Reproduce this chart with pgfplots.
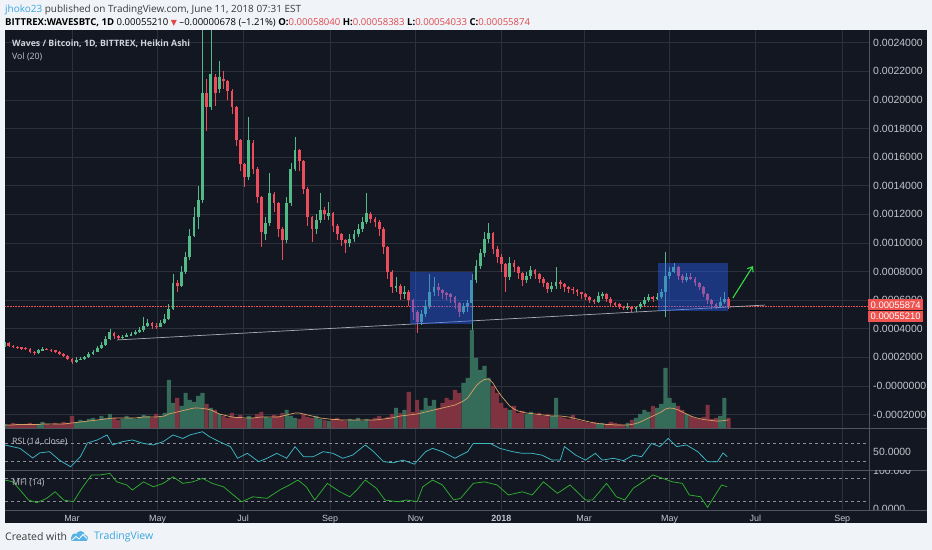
\documentclass[border=0pt]{standalone}
\usepackage{fontspec}
\usepackage{pgfplots}
\pgfplotsset{compat=1.18}
\usepackage{pgfplotstable}
\usetikzlibrary{arrows.meta}
\setmainfont{Open Sans}
\newfontfamily\lsans{Liberation Sans}
\newfontfamily\dejavu{DejaVu Sans}
\definecolor{pagebg}{HTML}{F0F3F8}
\definecolor{chartbg}{HTML}{131722}
\definecolor{gridc}{HTML}{2C303B}
\definecolor{sepc}{HTML}{50545F}
\definecolor{axtext}{HTML}{C3C6CE}
\definecolor{upc}{HTML}{53B987}
\definecolor{dnc}{HTML}{EB4D5C}
\definecolor{volup}{HTML}{356C59}
\definecolor{voldn}{HTML}{7F323F}
\definecolor{volma}{HTML}{D9A066}
\definecolor{rsic}{HTML}{3BB8C4}
\definecolor{mfic}{HTML}{2FAE2F}
\definecolor{dashc}{HTML}{8A8D96}
\definecolor{boxc}{HTML}{2962FF}
\definecolor{tvred}{HTML}{EF5350}
\definecolor{hdrred}{HTML}{E0474C}
\definecolor{tvblue}{HTML}{3BA6DF}
\definecolor{arrowg}{HTML}{33DD44}
\definecolor{linec}{HTML}{A9ACB4}
\definecolor{titlec}{HTML}{D1D4DC}
\definecolor{hdrtext}{HTML}{3A3A3A}

% d = days from 1 Mar 2017; prices in units of 1e-5 BTC; u=1 up candle; v = volume, m = volume MA (panel px)
\pgfplotstableread{
d o h l c u v m
-48 27 33 26 31 1 4 3
-45 30 31 27 28 0 3 3
-42 28 28.5 26.5 27.5 0 5 3
-39 27.5 28 26 27 0 4 3.5
-36 27 27.5 25.5 26.5 0 3 3.5
-33 26.5 27 25 26 0 4 3.5
-30 26 26.5 23 24 0 5 3.5
-27 24 24.5 22 23 0 3 3.5
-24 23 26 22.5 25 1 4 3.5
-21 25 27 24.5 26 1 6 4
-18 26 26.5 25 25.5 0 4 4
-15 25.5 26 24 25 0 3 4
-12 25 25.5 23 24 0 5 4
-9 24 24.5 21.5 22.5 0 4 4
-6 22.5 23 20 21 0 6 4
-3 21 21.5 18 19 0 5 4.5
0 19 19.5 15.5 17 0 12 5
3 17 20 16 18.5 1 6 5.5
6 18.5 20.5 18 19 1 8 6
9 19 21 18.5 20 1 7 6.5
12 20 23.5 19.5 22.5 1 9 7
15 22.5 25.5 22 24 1 10 7.5
18 24 28 23.5 26.5 1 8 8
21 26.5 31 26 29 1 12 8.5
24 29 35 28 33 1 10 9
27 33 40 32 38 1 14 9.5
30 37 38 33 35 0 10 10
33 35 35.5 32 33.5 0 8 10
36 33.5 36 33 34.5 1 9 10
39 34.5 37 34 35.5 1 12 10
42 35.5 38 35 36.5 1 10 10
45 36.5 39 36 37.5 1 9 10
48 37.5 41 37 39 1 11 10.5
51 39 48 38 42 1 13 11
54 42 47 41 44 1 12 11
57 44 45 40 42 0 10 11
60 42 44 40 41.5 0 14 11
63 41.5 46 41 44 1 12 11.5
66 44 50 43 47 1 15 12
69 47 57 46 54 1 48 14
72 54 78 53 72 1 25 15
75 72 74 66 70 0 30 16
78 70 84 69 80 1 22 17
81 80 94 78 90 1 35 18
84 90 110 88 105 1 28 19
87 105 125 104 118 1 26 20
90 118 140 110 130 1 32 20
93 130 248.9 128 205 1 35 19.5
96 205 215 178 195 0 24 19
99 195 248.9 193 218 1 20 18
102 216 218 196 205 0 18 16
105 208 227 205 216 1 14 14
108 215 220 208 213 0 12 13
111 213 214 200 206 0 10 12
114 206 208 190 195 0 15 11
117 195 196 168 172 0 11 10.5
120 172 173 150 155 0 13 10.5
123 155 156 139 146 0 9 10
126 146 188 144 172 1 12 10
129 170 172 148 152 0 10 10
132 152 153 128 132 0 14 10.5
135 132 133 97 108 0 16 11
138 106 118 102 114 1 11 11
141 114 149 112 135 1 10 11
144 134 136 122 128 0 13 11
147 128 129 104 110 0 12 11
150 110 111 88 102 0 15 12
153 102 132 100 128 1 18 13
156 128 156 126 152 1 12 14
159 152 174 150 165 1 10 15
162 165 166 150 157 0 9 15
165 157 158 134 138 0 14 14
168 138 139 112 118 0 11 13
171 118 119 101 110 0 10 12
174 110 120 106 116 1 12 11
177 116 135 114 123 1 9 10
180 123 125 116 120 0 8 9.5
183 119 129 116 121 1 7 9
186 121 122 108 112 0 9 8.5
189 112 113 102 106 0 10 8.5
192 106 107 98 102 0 8 8
195 102 103 93 100 0 7 8
198 100 106 97 103 1 9 8
201 103 109 101 106 1 8 8
204 106 113 104 110 1 10 8
207 110 118 108 115 1 7 8
210 115 135 113 121 1 9 8
213 120 122 114 117 0 8 8
216 117 118 111 115 0 10 8
219 115 116 105 110 0 12 8.5
222 110 111 92 97 0 9 9
225 97 98 75 80 0 11 9.5
228 80 81 65 69 0 14 10
231 69 76 66 70 1 20 11
234 70 71 60 64 0 15 12
237 64 70 61 66 1 18 12.5
240 66 67 56 60 0 36 13
243 60 61 46 52 0 16 13.5
246 52 53 37 45 0 28 14
249 45 53 43 50 1 18 15
252 50 60 48 56 1 30 16
255 56 78 54 66 1 22 17
258 66 76 63 69 1 28 18
261 69 72 63 67 0 20 19
264 67 68 61 65 0 25 20
267 65 66 60 64 0 30 21
270 64 65 58 62 0 28 22
273 62 63 54 58 0 38 23
276 58 59 48 52 0 35 25
279 52 58 50 56 1 45 27
282 56 60 52 58 1 50 30
285 58 78 35 74 1 98 36
288 74 88 72 84 1 70 42
291 84 96 82 93 1 58 46
294 93 108 90 103 1 62 48.5
297 103 114 100 107 1 50 49
300 107 108 92 96 0 42 45
303 96 98 86 90 0 35 38
306 90 92 80 85 0 25 32
309 85 86 66 76 0 20 27
312 76 90 74 86 1 18 22
315 86 88 80 83 0 22 19
318 83 84 75 79 0 15 17
321 79 80 70 74 0 17 16
324 74 80 72 77 1 14 15
327 77 84 75 81 1 16 14.5
330 81 82 75 78 0 13 14
333 78 79 72 75 0 15 13.5
336 75 76 69 72 0 12 13
339 72 73 65 68 0 14 12.5
342 68 73 66 70 1 12 12
345 70 83 68 73 1 30 12
348 73 74 68 71 0 11 12
351 71 72 66 69 0 10 11.5
354 69 70 65 68 0 9 11
357 68 69 64 67 0 13 10
360 67 68 63 65.5 0 8 9
363 65.5 66 61 64 0 7 8
366 64 65 60 62 0 6 7
369 62 63 58 60 0 5 6
372 60 61 57 59 0 6 5
375 59 66 58 63 1 4 4.5
378 63 66 61 64 1 5 4
381 64 65 59 61 0 4 3.5
384 61 62 56 58 0 6 3.5
387 58 59 55 57 0 5 3
390 57 58 54 55.5 0 4 3
393 55.5 56 53 54.5 0 3 3
396 54.5 58 53 55.5 1 5 3
399 55.5 56 52 53.5 0 8 3.5
402 53.5 56 52 55 1 10 4.5
405 55 59 54 57 1 14 6
408 57 62 56 60 1 18 8
411 60 64 59 62 1 16 10
414 62 63 59 61 0 22 12
417 61 65 60 62 1 20 14
420 62 68 61 66 1 24 16
423 66 94 48 77 1 60 19
426 77 83 75 80 1 30 20
429 80 86 79 83 1 25 19.5
432 83 84 74 77 0 22 18
435 77 78 72 74 0 18 16
438 74 79 73 76 1 14 14
441 76 79 74 75 0 12 12
444 75 76 70 72 0 10 10.5
447 72 73 67 69 0 9 9.5
450 69 70 62 64 0 11 8.5
453 64 65 57 60 0 23 8
456 60 61 54 57 0 9 7.5
459 57 58 54 56 0 10 7
462 56 62 55 59 1 12 7
465 59 66 57 61 1 30 7.5
468 61 62 54 56 0 10 8
}\price

\pgfplotsset{
  tvpanel/.style={scale only axis, width=864bp, xmin=-47.75, xmax=568.07,
    anchor=south west, axis line style={draw=none}, major tick length=0pt,
    tick style={draw=none}, clip=true, clip marker paths=true,
    xtick={0,61,122,184,245,306,365,426,487,549}, xticklabels={},
    xmajorgrids, major grid style={draw=gridc, line width=0.6bp}},
  ylab/.style={yticklabel pos=right,
    yticklabel style={font=\lsans\fontsize{10.5}{12}\selectfont, text=axtext,
      anchor=west, inner sep=0pt, xshift=4bp}},
  upf/.style={restrict expr to domain={\thisrow{u}}{0.5:1.5}},
  dnf/.style={restrict expr to domain={\thisrow{u}}{-0.5:0.5}},
  wick/.style={draw=none, mark=none, forget plot, error bars/.cd, y dir=both, y explicit,
    error mark=none, error bar style={draw=#1, line width=0.7bp}},
  body/.style={draw=none, mark=none, forget plot, error bars/.cd, y dir=both, y explicit,
    error mark=none, error bar style={draw=#1, line width=2.8bp}},
}

\begin{document}
\begin{tikzpicture}[x=1bp,y=1bp]
\fill[pagebg] (0,0) rectangle (932,550);
\fill[chartbg] (5,27) rectangle (927,520);

% ---------- main price panel ----------
\begin{axis}[tvpanel, ylab, at={(5bp,122bp)}, height=398bp,
  ymin=-29.37, ymax=248.95, ytick={-20,0,...,240}, ymajorgrids,
  yticklabels={-0.0002000,-0.0000000,0.0002000,0.0004000,0.0006000,0.0008000,0.0010000,0.0012000,0.0014000,0.0016000,0.0018000,0.0020000,0.0022000,0.0024000}]
\addplot[tvred, line width=0.6bp, densely dotted] coordinates {(-47.75,55.874) (568.07,55.874)};
\addplot[upf, wick=upc] table[x=d, y expr={(\thisrow{h}+\thisrow{l})/2}, y error expr={(\thisrow{h}-\thisrow{l})/2}] {\price};
\addplot[dnf, wick=dnc] table[x=d, y expr={(\thisrow{h}+\thisrow{l})/2}, y error expr={(\thisrow{h}-\thisrow{l})/2}] {\price};
\addplot[upf, body=upc] table[x=d, y expr={(\thisrow{o}+\thisrow{c})/2}, y error expr={abs(\thisrow{c}-\thisrow{o})/2}] {\price};
\addplot[dnf, body=dnc] table[x=d, y expr={(\thisrow{o}+\thisrow{c})/2}, y error expr={abs(\thisrow{c}-\thisrow{o})/2}] {\price};
\draw[linec, line width=0.7bp] (axis cs:32.1,32.2) -- (axis cs:494,56.6);
\fill[boxc, fill opacity=0.42] (axis cs:241,43.4) rectangle (axis cs:285.5,79.7);
\fill[boxc, fill opacity=0.42] (axis cs:417.7,52.4) rectangle (axis cs:467.6,86);
\draw[arrowg, line width=1.1bp, -{Straight Barb[length=4.5bp,width=7bp]}] (axis cs:471,61.5) -- (axis cs:485.4,83.9);
\end{axis}

% ---------- volume overlay ----------
\begin{axis}[tvpanel, at={(5bp,122bp)}, height=398bp, ymin=0, ymax=398,
  xmajorgrids=false, xtick=\empty, ytick=\empty]
\addplot[ybar, bar width=2.9, bar shift=0pt, fill=volup, draw=none, upf] table[x=d, y=v] {\price};
\addplot[ybar, bar width=2.9, bar shift=0pt, fill=voldn, draw=none, dnf] table[x=d, y=v] {\price};
\addplot[volma, line width=0.7bp] table[x=d, y=m] {\price};
\end{axis}

% ---------- RSI ----------
\begin{axis}[tvpanel, ylab, at={(5bp,80bp)}, height=41bp, ymin=10, ymax=101.1,
  ytick={50}, yticklabels={50.0000}]
\addplot[dashc, line width=0.6bp, dash pattern=on 3bp off 3bp] coordinates {(-47.75,70) (568.07,70)};
\addplot[dashc, line width=0.6bp, dash pattern=on 3bp off 3bp] coordinates {(-47.75,30) (568.07,30)};
\addplot[rsic, line width=0.75bp] coordinates {(-48,65.6) (-37,58) (-28,36.7) (-23,48) (-16,50.7) (-9,32) (-1,17) (6,39.6) (11,70) (18,76.7) (25,87.8) (29,65.6) (36,73) (43,76.7) (51,69) (58,65.6) (65,73) (72,87.8) (79,80) (84,87.8) (93,95) (98,84) (105,73) (113,61.8) (118,36) (125,47) (133,28.5) (139,36) (146,47) (153,36) (159,61.8) (165,39.6) (172,39.6) (179,50.7) (186,47) (193,36) (200,43) (209,65.6) (215,50.7) (222,28.5) (229,26) (236,32) (244,23) (252,50.7) (257,58) (264,50.7) (273,36) (277,43) (282,50.7) (286,69) (293,69) (298,69) (305,58) (314,50.7) (321,47) (328,47) (335,43) (342,32) (348,32) (351,62) (359,43) (366,32) (373,47) (378,32) (386,36) (393,30.7) (400,43) (406,39.6) (413,69) (419,62) (425,80) (431,62) (438,65.6) (446,50.7) (453,28.5) (460,28.5) (464,48) (467,39.6)};
\end{axis}

% ---------- MFI ----------
\begin{axis}[tvpanel, at={(5bp,40bp)}, height=40bp, ymin=-3.5, ymax=100.9, ytick=\empty,
  xticklabels={Mar,May,Jul,Sep,Nov,\textbf{2018},Mar,May,Jul,Sep},
  xticklabel style={font=\lsans\fontsize{9}{10}\selectfont, text=axtext, anchor=base, inner sep=0pt, yshift=-11.5bp}]
\addplot[dashc, line width=0.6bp, dash pattern=on 3bp off 3bp] coordinates {(-47.75,80) (568.07,80)};
\addplot[dashc, line width=0.6bp, dash pattern=on 3bp off 3bp] coordinates {(-47.75,20) (568.07,20)};
\addplot[mfic, line width=0.75bp] coordinates {(-48,74.8) (-42,70) (-31,22.6) (-25,15.6) (-18,27) (-12,44) (-6,22.6) (1,18) (7,53) (14,88) (20,88) (27,92) (32,70) (39,61.8) (43,48.7) (51,70) (58,57) (65,66) (72,83) (79,66) (86,70) (93,79) (100,66) (108,57) (115,35.7) (121,18) (129,31) (139,27) (148,48.7) (155,61.8) (161,74.8) (167,57) (173,22.6) (182,66) (191,44) (198,31) (203,48.7) (209,74.8) (217,53) (223,22.6) (232,18) (239,22.6) (246,18) (250,57) (257,74.8) (264,61.8) (272,22.6) (277,27) (286,66) (294,70) (303,61.8) (311,35.7) (321,44) (328,35.7) (336,70) (346,40) (355,61.8) (366,22.6) (371,22.6) (381,66) (388,31) (394,22.6) (400,53) (407,70) (414,88) (421,79) (428,70) (435,66) (440,35.7) (448,31) (453,3.5) (457,27) (463,61.8) (467,57)};
\end{axis}

% ---------- separators ----------
\draw[sepc, line width=0.8bp] (5,121.5) -- (927,121.5);
\draw[sepc, line width=0.8bp] (5,80) -- (927,80);
\draw[sepc, line width=0.8bp] (5,40) -- (927,40);
\draw[sepc, line width=0.8bp] (869,40) -- (869,520);

% MFI scale labels (clipped by the panel)
\begin{scope}
\clip (870,40.4) rectangle (927,79.6);
\node[anchor=west, inner sep=0pt, font=\lsans\fontsize{10.5}{12}\selectfont, text=axtext] at (873,79.5) {100.000};
\node[anchor=west, inner sep=0pt, font=\lsans\fontsize{10.5}{12}\selectfont, text=axtext] at (873,41) {0.0000};
\end{scope}

% last price labels
\node[fill=tvred, text=white, anchor=west, inner sep=0pt, minimum height=11bp, minimum width=55bp, font=\lsans\fontsize{9.5}{11}\selectfont] at (868,245) {0.00055874};
\node[fill=tvred, text=white, anchor=west, inner sep=0pt, minimum height=11bp, minimum width=55bp, font=\lsans\fontsize{9.5}{11}\selectfont] at (868,233.5) {0.00055210};

% panel titles
\node[anchor=west, inner sep=0pt, font=\bfseries\fontsize{8.8}{10}\selectfont, text=titlec] at (12,506) {Waves / Bitcoin, 1D, BITTREX, Heikin Ashi};
\node[anchor=west, inner sep=0pt, font=\fontsize{8.8}{10}\selectfont, text=axtext] at (12,493) {Vol (20)};
\node[anchor=west, inner sep=0pt, font=\fontsize{8.8}{10}\selectfont, text=axtext] at (12,108) {RSI (14, close)};
\node[anchor=west, inner sep=0pt, font=\fontsize{8.8}{10}\selectfont, text=axtext] at (12,67) {MFI (14)};

% header
\node[anchor=west, inner sep=0pt, font=\fontsize{10}{12}\selectfont, text=hdrtext] at (5,540.5) {\textcolor{tvblue}{jhoko23} published on TradingView.com, June 11, 2018 07:31 EST};
\node[anchor=west, inner sep=0pt, font=\fontsize{9.6}{11}\selectfont, text=black] at (5,527.5) {\textbf{BITTREX:WAVESBTC, 1D} 0.00055210 {\dejavu\fontsize{8}{10}\selectfont\textcolor{hdrred}{▼}} –0.00000678 (–1.21\%) \textbf{O:}\textcolor{hdrred}{0.00058040} \textbf{H:}\textcolor{hdrred}{0.00058383} \textbf{L:}\textcolor{hdrred}{0.00054033} \textbf{C:}\textcolor{hdrred}{0.00055874}};

% footer
\node[anchor=west, inner sep=0pt, font=\fontsize{10.5}{12}\selectfont, text=hdrtext] at (5,13) {Created with};
\fill[tvblue!85] (71,9) rectangle (87,12.5);
\fill[tvblue!85] (75,13) circle (3.6);
\fill[tvblue!85] (80.5,14.6) circle (4.4);
\fill[tvblue!85] (85,12) circle (3);
\draw[white, line width=0.8bp] (71.5,9.5) -- (76,13.5) -- (79,11) -- (83,15.5) -- (87,11.5);
\node[anchor=west, inner sep=0pt, font=\fontsize{10.5}{12}\selectfont, text=tvblue] at (94,13) {TradingView};
\pgfresetboundingbox
\useasboundingbox (0,0) rectangle (932,550);
\end{tikzpicture}
\end{document}
